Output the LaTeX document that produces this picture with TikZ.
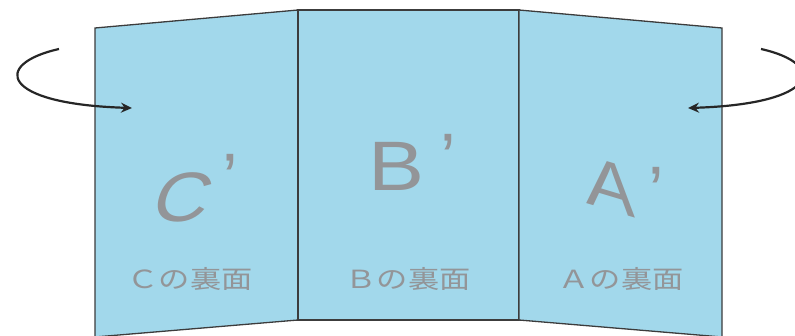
\documentclass[tikz,border=0pt]{standalone}
\usepackage{fontspec}
\setmainfont{Liberation Sans}
\newfontfamily\jp{Noto Sans CJK JP}
\usetikzlibrary{arrows.meta}
\definecolor{panel}{HTML}{A2D8EB}
\definecolor{txt}{HTML}{939598}
\definecolor{edge}{HTML}{3C3C3C}
\tikzset{
  panelbox/.style={fill=panel, draw=edge, line width=1.3pt, line join=miter},
  bigletter/.style={text=txt, inner sep=0pt, font=\fontsize{70}{70}\selectfont},
  primemark/.style={text=txt, inner sep=0pt, anchor=north, font=\fontsize{70}{70}\selectfont},
  backlabel/.style={text=txt, inner sep=0pt, xscale=1.25, font=\jp\fontsize{25}{25}\selectfont},
  turnarrow/.style={draw=black!85, line width=2.2pt, -{Stealth[length=11pt,width=10pt]}}
}
\begin{document}
\begin{tikzpicture}[x=1pt,y=-1pt]
\useasboundingbox (0,0) rectangle (795,336);
\clip (0,0) rectangle (795,336);
% panels
\coordinate (l1) at (95,28);
\coordinate (l2) at (298,10);
\coordinate (l3) at (298,320);
\coordinate (l4) at (95,337);
\coordinate (r1) at (519,10);
\coordinate (r2) at (722,28);
\coordinate (r3) at (722,337);
\coordinate (r4) at (519,320);
\draw[panelbox] (l1) -- (l2) -- (l3) -- (l4) -- cycle;
\draw[panelbox] (l2) -- (r1) -- (r4) -- (l3) -- cycle;
\draw[panelbox] (r1) -- (r2) -- (r3) -- (r4) -- cycle;
% big letters
\node[bigletter, xslant=0.3, xscale=1.1] (C) at (184,197) {C};
\node[primemark] (Cp) at (230,154) {’};
\node[bigletter, xscale=1.2] (B) at (397,166) {B};
\node[primemark] (Bp) at (448,134) {’};
\node[bigletter, yslant=-0.3, xscale=1.05] (A) at (611,187) {A};
\node[primemark] (Ap) at (656,167) {’};
% labels
\node[backlabel] (Cl) at (190,279) {Ｃの裏面};
\node[backlabel] (Bl) at (408,279) {Ｂの裏面};
\node[backlabel] (Al) at (621,279) {Ａの裏面};
% arrows
\coordinate (la) at (59,49);
\coordinate (lb) at (132,108);
\coordinate (ra) at (761,49);
\coordinate (rb) at (688,108);
\draw[turnarrow] (la) .. controls (-8,64) and (0,104) .. (lb);
\draw[turnarrow] (ra) .. controls (828,64) and (820,104) .. (rb);
\end{tikzpicture}
\end{document}
